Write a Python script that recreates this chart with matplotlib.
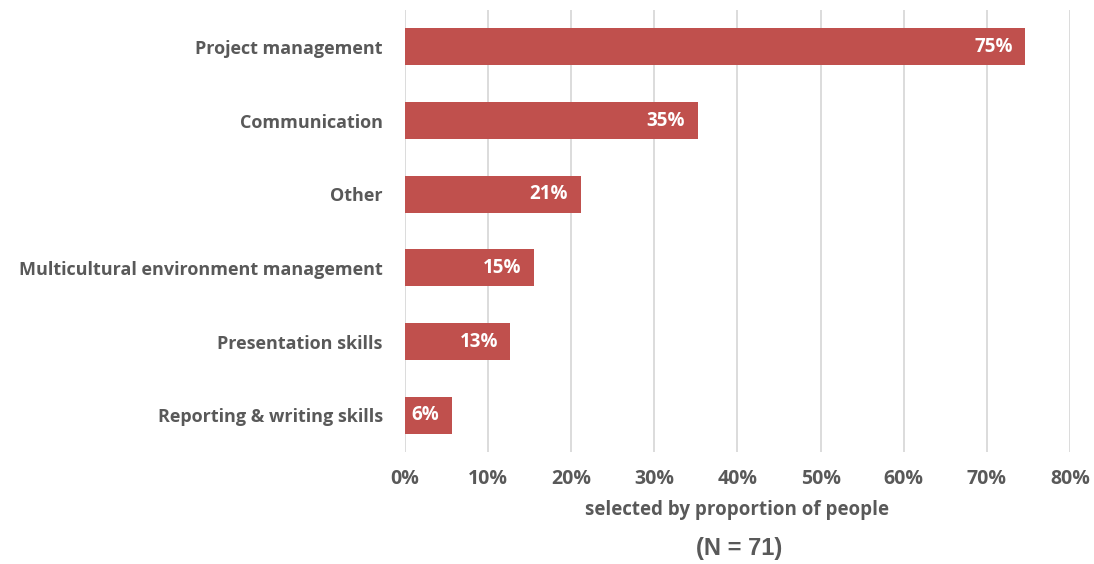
import numpy as np
import matplotlib.pyplot as plt
from matplotlib.ticker import PercentFormatter

plt.rcParams['font.family'] = ['Open Sans', 'DejaVu Sans']
plt.rcParams['font.weight'] = 'bold'

# survey answers (top to bottom), counts out of N respondents
skills = ['Project management', 'Communication', 'Other',
          'Multicultural environment management', 'Presentation skills',
          'Reporting & writing skills']
counts = [53, 25, 15, 11, 9, 4]
n_total = 71

share = np.array(counts) / n_total * 100
text_col = '#595959'
bar_col = '#C0504D'

fig = plt.figure(figsize=(10.94, 5.64), dpi=100)
ax = fig.add_axes([0.3702, 0.1985, 0.6078, 0.7837])

ypos = np.arange(len(skills))
ax.barh(ypos, share, height=0.5, color=bar_col, zorder=3)
for y, v in zip(ypos, share):
    ax.annotate(f'{v:.0f}%', (v, y), xytext=(-9, 0), textcoords='offset points',
                ha='right', va='center', color='white',
                fontsize=13.5, fontweight='bold', zorder=4)

ax.set_ylim(len(skills) - 0.5, -0.5)
ax.set_xlim(0, 80)
ax.set_yticks(ypos)
ax.set_yticklabels(skills)
ax.set_xticks(np.arange(0, 81, 10))
ax.xaxis.set_major_formatter(PercentFormatter(decimals=0))
ax.tick_params(axis='y', length=0, labelsize=13, labelcolor=text_col, pad=16)
ax.tick_params(axis='x', length=0, labelsize=14, labelcolor=text_col, pad=12)
ax.grid(axis='x', color='#D9D9D9', linewidth=1.3, zorder=0)
for s in ax.spines.values():
    s.set_visible(False)

ax.set_xlabel('selected by proportion of people', fontsize=13.5, color=text_col,
              fontweight='bold', labelpad=8)
fig.text(0.676, 0.027, '(N = 71)', ha='center', va='center', fontsize=17,
         fontweight='bold', color=text_col,
         family=['Liberation Sans', 'DejaVu Sans'])

fig.savefig('out.png', dpi=100)
